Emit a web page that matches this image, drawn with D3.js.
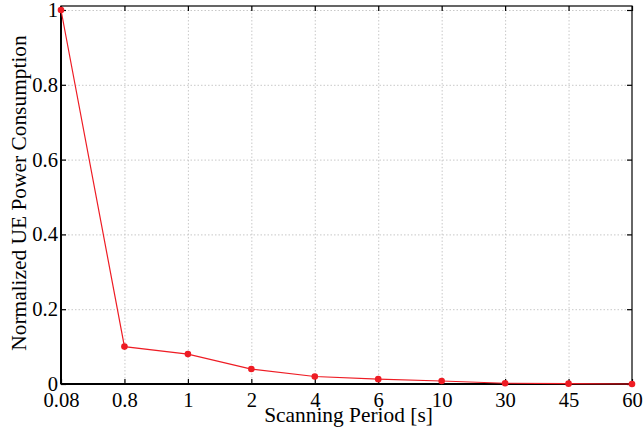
<!DOCTYPE html>
<html>
<head>
<meta charset="utf-8">
<script src="https://cdn.jsdelivr.net/npm/d3@7"></script>
<style>
    body { margin: 0; background: #fff; }
    svg text { font-family: "Liberation Serif", "Times New Roman", serif !important; fill: #000; }
    .grid line { stroke: #c8c8c8; stroke-dasharray: 1.5 2; }
    .grid path { display: none; }
</style>
</head>
<body>
<svg id="chart" width="644" height="432"></svg>
<script>
const periods = ['0.08', '0.8', '1', '2', '4', '6', '10', '30', '45', '60'];
const power = [1, 0.1, 0.08, 0.04, 0.02, 0.013, 0.008, 0.002, 0.001, 0];
const yTicks = [0, 0.2, 0.4, 0.6, 0.8, 1];
const yTickLabels = ['0', '0.2', '0.4', '0.6', '0.8', '1'];

const chartProperties = {
    xMax: 644,
    yMax: 432,
    margins: { left: 61, right: 12, top: 6, bottom: 48 }
};

function getChartWidth(p) {
    return p.xMax - (p.margins.left + p.margins.right);
}

function getChartHeight(p) {
    return p.yMax - (p.margins.top + p.margins.bottom);
}

const width = getChartWidth(chartProperties);
const height = getChartHeight(chartProperties);
const svg = d3.select('#chart');
const g = svg.append('g')
    .attr('transform', `translate(${chartProperties.margins.left} ${chartProperties.margins.top})`);

const xScale = d3.scalePoint().domain(periods).range([0, width]).padding(0);
const yScale = d3.scaleLinear().domain([0, 1.0107]).range([height, 0]);

// grid
g.append('g').attr('class', 'grid')
    .call(d3.axisBottom(xScale).tickSize(height).tickFormat(''))
    .selectAll('.tick').filter((d, i) => i === 0 || i === periods.length - 1).remove();
g.append('g').attr('class', 'grid')
    .call(d3.axisRight(yScale).tickValues(yTicks).tickSize(width).tickFormat(''))
    .selectAll('.tick').filter(d => d === 0).remove();

// box
g.append('rect')
    .attr('width', width).attr('height', height)
    .attr('fill', 'none').attr('stroke', '#000').attr('stroke-width', 1.2);

// inward ticks on all four sides
function styleAxis(sel) {
    sel.attr('font-family', 'Liberation Serif').attr('font-size', 20.6);
    sel.select('.domain').remove();
    sel.selectAll('.tick line').attr('stroke', '#000').attr('stroke-width', 1.2);
}

g.append('g').attr('transform', `translate(0 ${height})`)
    .call(d3.axisBottom(xScale).tickSizeInner(-5).tickPadding(8))
    .call(styleAxis);
g.append('g')
    .call(d3.axisTop(xScale).tickSizeInner(-5).tickFormat(''))
    .call(styleAxis);
g.append('g')
    .call(d3.axisLeft(yScale).tickValues(yTicks).tickSizeInner(-5).tickPadding(3)
        .tickFormat((d, i) => yTickLabels[i]))
    .call(styleAxis);
g.append('g').attr('transform', `translate(${width} 0)`)
    .call(d3.axisRight(yScale).tickValues(yTicks).tickSizeInner(-5).tickFormat(''))
    .call(styleAxis);

// thicker left and bottom spines
g.append('line').attr('x1', 0).attr('x2', 0).attr('y1', 0).attr('y2', height)
    .attr('stroke', '#000').attr('stroke-width', 2);
g.append('line').attr('x1', 0).attr('x2', width).attr('y1', height).attr('y2', height)
    .attr('stroke', '#000').attr('stroke-width', 2);

// series
const lineGen = d3.line()
    .x((d, i) => xScale(periods[i]))
    .y(d => yScale(d));
g.append('path').attr('d', lineGen(power))
    .attr('fill', 'none').attr('stroke', '#ee1c24').attr('stroke-width', 1.2);
g.selectAll('circle.pt').data(power).enter().append('circle')
    .attr('class', 'pt')
    .attr('cx', (d, i) => xScale(periods[i]))
    .attr('cy', d => yScale(d))
    .attr('r', 3.3)
    .attr('fill', '#ee1c24');

// titles
svg.append('text')
    .attr('x', 348.5)
    .attr('y', 422)
    .attr('text-anchor', 'middle')
    .style('font-size', '21.4px')
    .text('Scanning Period [s]');
svg.append('text')
    .attr('transform', 'translate(26 193) rotate(-90)')
    .attr('text-anchor', 'middle')
    .style('font-size', '21.4px')
    .text('Normalized UE Power Consumption');
</script>
</body>
</html>
